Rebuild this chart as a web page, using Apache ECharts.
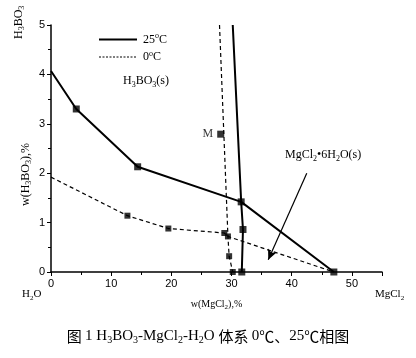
<!DOCTYPE html>
<html><head><meta charset="utf-8">
<script src="https://cdn.jsdelivr.net/npm/echarts@6/dist/echarts.min.js"></script>
<style>html,body{margin:0;padding:0;background:#fff}#c{width:416px;height:358px}</style>
</head><body><div id="c"></div>
<script>
// 25°C solubility curves
const line25a = [[0,4.07],[4.2,3.3],[14.4,2.13],[31.6,1.42],[47,0]];
const line25b = [[30.2,5],[31.6,1.42],[31.9,0.86],[31.7,0]];
const pts25 = [[4.2,3.3],[14.4,2.13],[31.6,1.42],[31.9,0.86],[31.7,0],[47,0]];
// 0°C solubility curves
const line0a = [[0,1.92],[12.7,1.14],[19.5,0.88],[28.8,0.79],[29.4,0.72],[47,0]];
const line0b = [[28.0,5],[29.4,0.72],[29.6,0.32],[30.2,0]];
const pts0 = [[12.7,1.14],[19.5,0.88],[28.8,0.79],[29.4,0.72],[29.6,0.32],[30.2,0]];
const pointM = [[28.2,2.79]];
const arrowLine = [[42.5,2.0],[36.1,0.25]];
const xTicks = [0,10,20,30,40,50];
const yTicks = [0,1,2,3,4,5];

const serif = '"Liberation Serif","Times New Roman",serif';
const sans = '"Liberation Sans",Arial,sans-serif';
const richBase = (fs) => ({
  n:{fontFamily:serif,fontSize:fs,color:'#000',lineHeight:fs+3},
  s:{fontFamily:serif,fontSize:Math.round(fs*0.65),color:'#000',lineHeight:fs+3,verticalAlign:'bottom'},
  u:{fontFamily:serif,fontSize:Math.round(fs*0.65),color:'#000',lineHeight:fs+3,verticalAlign:'top'},
  c:{fontFamily:'"Noto Sans CJK SC",sans-serif',fontSize:fs,color:'#000',lineHeight:fs+3}
});

const chart = echarts.init(document.getElementById('c'));
chart.setOption({
  animation:false,
  backgroundColor:'#fff',
  grid:{left:51,right:34,top:25,bottom:86},
  legend:{
    orient:'vertical',left:93,top:27,itemWidth:38,itemHeight:10,itemGap:4,
    data:[{name:'25C'},{name:'0C',lineStyle:{type:[2,1.5],width:1}}],
    itemStyle:{opacity:0},
    formatter:(n)=> n==='25C' ? '{n|25}{u|o}{n|C}' : '{n|0}{u|o}{n|C}',
    textStyle:{rich:richBase(12),padding:[0,0,0,1]}
  },
  xAxis:{
    type:'value',min:0,max:55,interval:10,
    axisLine:{lineStyle:{color:'#000',width:1.5}},
    axisTick:{inside:false,length:4,lineStyle:{color:'#000'}},
    minorTick:{show:true,splitNumber:2,length:3,lineStyle:{color:'#000'}},
    splitLine:{show:false},
    axisLabel:{fontFamily:sans,fontSize:11,color:'#000',margin:6,
      formatter:(v)=> xTicks.includes(v)? String(v):''},
    name:'{n|w(MgCl}{s|2}{n|),%}',nameLocation:'middle',nameGap:26,
    nameTextStyle:{rich:richBase(10)}
  },
  yAxis:{
    type:'value',min:0,max:5,interval:1,
    axisLine:{show:true,lineStyle:{color:'#000',width:1.5}},
    axisTick:{show:true,inside:false,length:4,lineStyle:{color:'#000'}},
    minorTick:{show:true,splitNumber:2,length:3,lineStyle:{color:'#000'}},
    splitLine:{show:false},
    axisLabel:{fontFamily:sans,fontSize:11,color:'#000',margin:6,
      formatter:(v)=> yTicks.includes(v)? String(v):''}
  },
  series:[
    {name:'25C',type:'line',data:line25a,symbol:'none',lineStyle:{color:'#000',width:2},itemStyle:{color:'#000'}},
    {name:'25C_b',type:'line',data:line25b,symbol:'none',lineStyle:{color:'#000',width:2}},
    {name:'0C',type:'line',data:line0a,symbol:'none',lineStyle:{color:'#000',width:1.2,type:[4,3]},itemStyle:{color:'#000'}},
    {name:'0C_b',type:'line',data:line0b,symbol:'none',lineStyle:{color:'#000',width:1.2,type:[4,3]}},
    {type:'scatter',data:pts25,symbol:'rect',symbolSize:7,itemStyle:{color:'#000'}},
    {type:'scatter',data:pts0,symbol:'rect',symbolSize:6,itemStyle:{color:'#000'}},
    {type:'scatter',data:pointM,symbol:'rect',symbolSize:7,itemStyle:{color:'#000'},
      label:{show:true,position:'left',distance:4,formatter:'M',fontFamily:serif,fontSize:12,color:'#000'},
      markLine:{silent:true,symbol:['none','arrow'],symbolSize:[7,10],
        lineStyle:{color:'#000',width:1.2,type:'solid',curveness:0.04},label:{show:false},
        data:[[{coord:arrowLine[0]},{coord:arrowLine[1]}]]}}
  ],
  graphic:[
    {type:'text',left:123,top:75,style:{rich:richBase(12),text:'{n|H}{s|3}{n|BO}{s|3}{n|(s)}'}},
    {type:'text',left:285,top:149,style:{rich:richBase(12),text:'{n|MgCl}{s|2}{n|•6H}{s|2}{n|O(s)}'}},
    {type:'text',left:22,top:289,style:{rich:richBase(11),text:'{n|H}{s|2}{n|O}'}},
    {type:'text',left:375,top:289,style:{rich:richBase(11),text:'{n|MgCl}{s|2}'}},
    {type:'text',x:11,y:39,rotation:Math.PI/2,style:{rich:richBase(12),text:'{n|H}{s|3}{n|BO}{s|3}'}},
    {type:'text',x:18,y:206,rotation:Math.PI/2,style:{rich:richBase(12),text:'{n|w(H}{s|3}{n|BO}{s|3}{n|),%}'}},
    {type:'text',left:'center',top:329,style:{rich:richBase(15),
      text:'{c|图 }{n|1 H}{s|3}{n|BO}{s|3}{n|-MgCl}{s|2}{n|-H}{s|2}{n|O }{c|体系 }{n|0}{c|℃、}{n|25}{c|℃相图}'}}
  ]
});
</script></body></html>
